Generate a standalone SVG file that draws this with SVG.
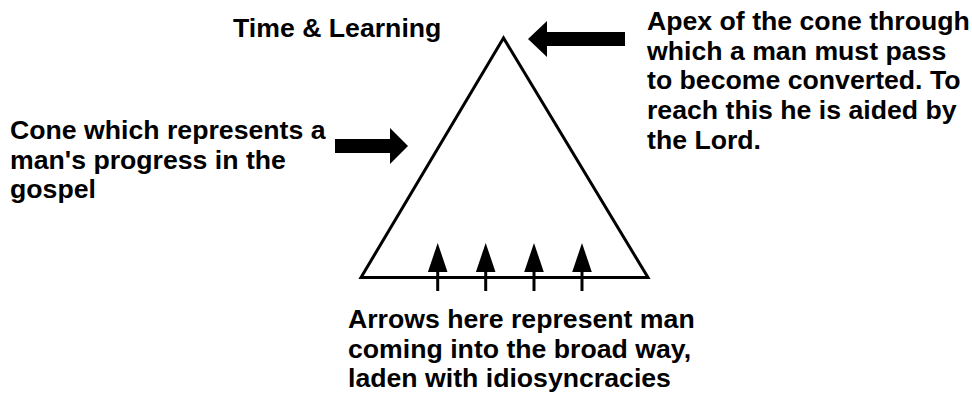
<svg xmlns="http://www.w3.org/2000/svg" width="972" height="393" viewBox="0 0 972 393">
<style>
text{font-family:"Liberation Sans",Arial,sans-serif;font-weight:bold;font-size:26.67px;fill:#000}
.ln{stroke:#000;stroke-width:3;fill:none}
.fill{fill:#000;stroke:none}
</style>
<rect width="972" height="393" fill="#fff"/>
<g id="cone">
<path class="ln" d="M503.5,38 L361,277.5 L648,277.5 Z" stroke-linejoin="miter"/>
</g>
<g id="connectors">
<path class="fill" d="M528,39 L547,21 L547,32 L625,32 L625,46 L547,46 L547,57 Z"/>
<path class="fill" d="M335,139 L390,139 L390,128 L408,146 L390,164 L390,153 L335,153 Z"/>
<g id="small-arrows">
<line class="ln" x1="437.7" y1="291" x2="437.7" y2="268"/>
<path class="fill" d="M437.7,243 L447.5,272 L427.9,272 Z"/>
<line class="ln" x1="485.7" y1="291" x2="485.7" y2="268"/>
<path class="fill" d="M485.7,243 L495.5,272 L475.9,272 Z"/>
<line class="ln" x1="534" y1="291" x2="534" y2="268"/>
<path class="fill" d="M534,243 L543.8,272 L524.2,272 Z"/>
<line class="ln" x1="582" y1="291" x2="582" y2="268"/>
<path class="fill" d="M582,243 L591.8,272 L572.2,272 Z"/>
</g>
</g>
<g id="label-time">
<text x="233" y="37">Time &amp; Learning</text>
</g>
<g id="label-cone">
<text x="10" y="139">Cone which represents a</text>
<text x="10" y="168.7">man's progress in the</text>
<text x="10" y="198.4">gospel</text>
</g>
<g id="label-apex">
<text x="647" y="30">Apex of the cone through</text>
<text x="647" y="59.7">which a man must pass</text>
<text x="647" y="89.4">to become converted. To</text>
<text x="647" y="119.1">reach this he is aided by</text>
<text x="647" y="148.8">the Lord.</text>
</g>
<g id="label-arrows">
<text x="348" y="328">Arrows here represent man</text>
<text x="348" y="357.7">coming into the broad way,</text>
<text x="348" y="387.4">laden with idiosyncracies</text>
</g>
</svg>
